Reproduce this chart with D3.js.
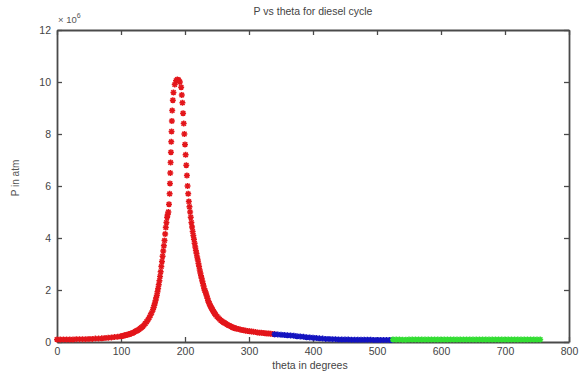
<!DOCTYPE html>
<html>
<head>
<meta charset="utf-8">
<script src="https://cdn.jsdelivr.net/npm/d3@7"></script>
<style>
  body { margin: 0; background: #fff; }
  svg { display: block; font-family: "Liberation Sans", Arial, sans-serif; }
  .axis text { fill: #444; font-size: 10.5px; }
  .axis path, .axis line { stroke: #4a4a4a; }
</style>
</head>
<body>
<script>
// values (P is in units of 10^6)
var redTheta = [0,5,10,15,20,25,30,35,40,45,50,55,60,65,70,75,80,85,90,95,100,102,104,106,108,110,112,114,116,118,120,122,124,126,128,130,132,134,136,138,140,142,144,146,148,150,151,152,153,154,155,156,157,158,159,160,161,162,163,164,165,166,167,168,169,170,171,172,173,174,175,176,176.5,177,177.5,178,178.5,179,179.5,180,181,182,184,186,188,190,192,194,195,196,197,198,199,200,201,202,203,204,205,206,207,208,209,210,211,212,213,214,215,216,217,218,219,220,221,222,223,224,225,226,227,228,229,230,231,232,233,234,235,236,237,238,239,240,241,242,243,244,245,246,247,248,250,252,254,256,258,260,262,264,266,268,270,272,274,276,278,280,283,286,289,292,295,298,301,304,307,310,313,316,319,322,325,328,331,334,337,340];
var redP = [0.10,0.10,0.10,0.10,0.10,0.10,0.11,0.11,0.11,0.11,0.12,0.12,0.13,0.13,0.14,0.15,0.16,0.17,0.19,0.20,0.22,0.23,0.24,0.26,0.27,0.28,0.30,0.31,0.33,0.35,0.37,0.40,0.42,0.45,0.48,0.52,0.56,0.60,0.65,0.71,0.78,0.85,0.93,1.03,1.13,1.25,1.33,1.41,1.5,1.6,1.7,1.8,1.93,2.06,2.2,2.36,2.52,2.7,2.9,3.1,3.3,3.5,3.7,3.9,4.15,4.4,4.6,4.8,4.9,5.0,5.3,5.7,6.1,6.5,6.9,7.3,7.7,8.1,8.5,8.9,9.3,9.6,9.9,10.05,10.1,10.08,10.0,9.8,9.5,9.2,8.8,8.4,8.0,7.6,7.2,6.8,6.4,6.0,5.7,5.4,5.2,5.0,4.8,4.6,4.42,4.25,4.1,3.95,3.8,3.65,3.52,3.4,3.27,3.15,3.02,2.9,2.77,2.65,2.55,2.45,2.35,2.25,2.15,2.05,1.98,1.92,1.85,1.77,1.68,1.6,1.54,1.48,1.42,1.37,1.33,1.28,1.24,1.19,1.15,1.11,1.08,1.04,0.98,0.93,0.88,0.83,0.80,0.76,0.73,0.70,0.67,0.64,0.62,0.60,0.57,0.55,0.53,0.52,0.50,0.48,0.46,0.45,0.43,0.42,0.41,0.40,0.39,0.38,0.37,0.36,0.355,0.35,0.34,0.33,0.325,0.32,0.31,0.30];

var blueTheta = [340,345,350,355,360,365,370,375,380,385,390,395,400,405,410,415,420,425,430,435,440,445,450,455,460,465,470,475,480,485,490,495,500,505,510,515,520,523];
var blueP = [0.30,0.29,0.28,0.27,0.26,0.25,0.24,0.22,0.21,0.20,0.18,0.17,0.16,0.15,0.14,0.13,0.12,0.12,0.11,0.11,0.10,0.10,0.10,0.10,0.09,0.09,0.09,0.09,0.09,0.09,0.09,0.08,0.08,0.08,0.08,0.08,0.08,0.08];

var greenTheta = [525,530,535,540,545,550,555,560,565,570,575,580,585,590,595,600,605,610,615,620,625,630,635,640,645,650,655,660,665,670,675,680,685,690,695,700,705,710,715,720,725,730,735,740,745,750,755];
var greenP = [0.10,0.10,0.10,0.09,0.09,0.10,0.10,0.10,0.10,0.10,0.10,0.10,0.10,0.10,0.10,0.10,0.10,0.10,0.10,0.10,0.10,0.10,0.10,0.10,0.10,0.10,0.10,0.10,0.10,0.10,0.10,0.10,0.10,0.10,0.10,0.10,0.10,0.10,0.10,0.10,0.10,0.10,0.10,0.10,0.10,0.10,0.10];

var xTicks = [0,100,200,300,400,500,600,700,800];
var yTicks = [0,2,4,6,8,10,12];

var svg = d3.select("body").append("svg")
    .attr("width", 581)
    .attr("height", 378);

var margin = {top: 30, right: 12, bottom: 36, left: 57},
    width = 581 - margin.left - margin.right,
    height = 378 - margin.top - margin.bottom;

var x = d3.scaleLinear().domain([0, 800]).range([0, width]);
var y = d3.scaleLinear().domain([0, 12]).range([height, 0]);

var g = svg.append("g")
    .attr("transform", "translate(" + margin.left + "," + margin.top + ")");

// axes, matlab style: ticks inward, box all round
g.append("g")
    .attr("class", "axis")
    .attr("transform", "translate(0," + height + ")")
    .call(d3.axisBottom(x).tickValues(xTicks).tickSizeInner(-5).tickSizeOuter(0).tickPadding(6));
g.append("g")
    .attr("class", "axis")
    .call(d3.axisTop(x).tickValues(xTicks).tickSizeInner(-5).tickSizeOuter(0).tickFormat(""));
g.append("g")
    .attr("class", "axis")
    .call(d3.axisLeft(y).tickValues(yTicks).tickSizeInner(-5).tickSizeOuter(0).tickPadding(6));
g.append("g")
    .attr("class", "axis")
    .attr("transform", "translate(" + width + ",0)")
    .call(d3.axisRight(y).tickValues(yTicks).tickSizeInner(-5).tickSizeOuter(0).tickFormat(""));
g.selectAll(".axis path").attr("stroke-width", 1.8);
g.selectAll(".axis line").attr("stroke-width", 1.3);

function drawSeries(thetas, ps, color) {
    var pts = thetas.map(function(t, i) { return [t, ps[i]]; });
    g.append("g").selectAll("path")
        .data(pts)
      .enter().append("path")
        .attr("transform", function(d) { return "translate(" + x(d[0]) + "," + y(d[1]) + ")"; })
        .attr("d", "M-3,0H3M0,-3V3M-2.2,-2.2L2.2,2.2M-2.2,2.2L2.2,-2.2")
        .attr("stroke", color)
        .attr("stroke-width", 1.5)
        .attr("fill", "none");
}
drawSeries(redTheta, redP, "#e3161b");
drawSeries(blueTheta, blueP, "#1414c0");
drawSeries(greenTheta, greenP, "#33dd33");

// texts
svg.append("text")
    .attr("x", margin.left + width / 2)
    .attr("y", 15)
    .attr("text-anchor", "middle")
    .attr("font-size", 10.5)
    .attr("fill", "#444")
    .text("P vs theta for diesel cycle");

var ex = svg.append("text")
    .attr("x", 58)
    .attr("y", 23)
    .attr("font-size", 9.5)
    .attr("fill", "#555");
ex.append("tspan").text("\u00d7 10");
ex.append("tspan").attr("dy", -5).attr("font-size", 7).text("6");

svg.append("text")
    .attr("x", margin.left + width / 2 - 3)
    .attr("y", 369)
    .attr("text-anchor", "middle")
    .attr("font-size", 10.5)
    .attr("fill", "#444")
    .text("theta in degrees");

svg.append("text")
    .attr("transform", "translate(19," + 178 + ") rotate(-90)")
    .attr("text-anchor", "middle")
    .attr("font-size", 10)
    .attr("fill", "#555")
    .text("P in atm");
</script>
</body>
</html>
